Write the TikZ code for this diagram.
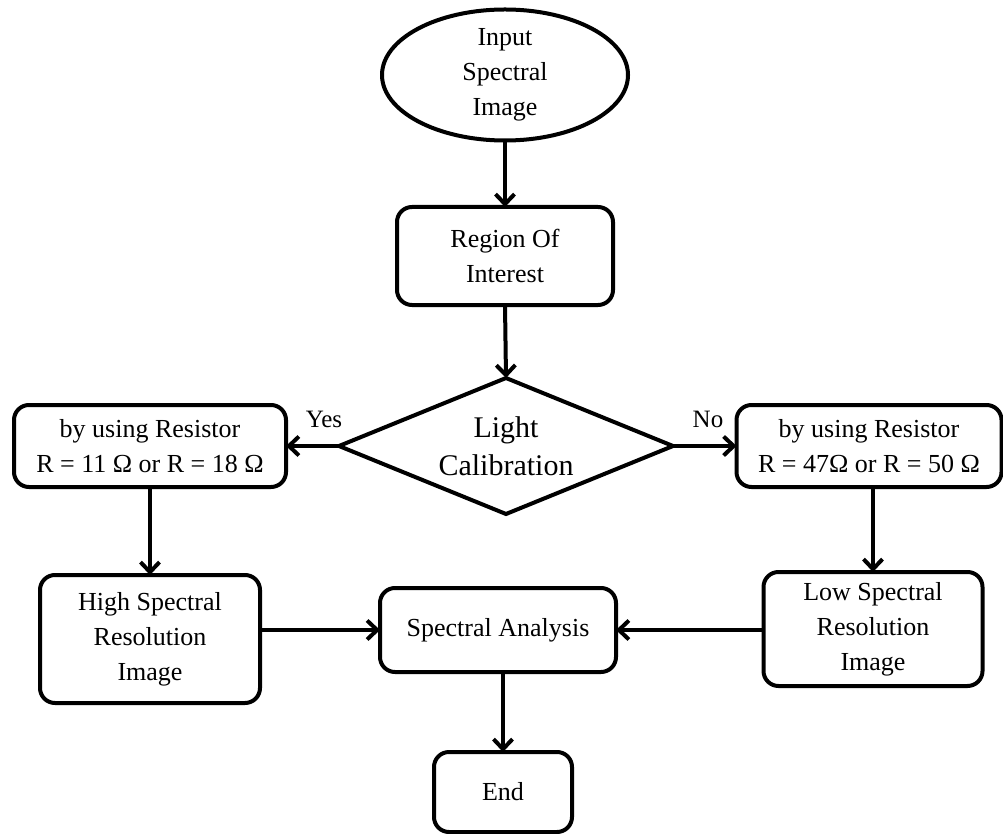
\documentclass[tikz,border=0pt]{standalone}
\usepackage{fontspec}
\setmainfont{Liberation Serif}
\usetikzlibrary{arrows.meta,shapes.geometric}
\begin{document}
\begin{tikzpicture}[x=1pt,y=-1pt,
  every node/.style={font=\fontsize{26}{35}\selectfont, align=center, outer sep=0pt, inner sep=0pt},
  shapeline/.style={draw=black, line width=4pt},
  stepbox/.style={shapeline, rounded corners=15pt},
  flow/.style={line width=4pt, -{Straight Barb[length=10pt,width=19pt,line width=4pt]}},
  tag/.style={font=\fontsize{25}{30}\selectfont}
]
\useasboundingbox (0,0) rectangle (1003,834);

% start
\node[shapeline, ellipse, minimum width=246, minimum height=114] (input) at (505,75)
  {Input\\Spectral\\Image};

% region of interest
\node[stepbox, minimum width=216, minimum height=98] (roi) at (505,256)
  {Region Of\\Interest};

% decision
\node[shapeline, diamond, aspect=2.41, minimum width=334, minimum height=136,
      font=\fontsize{30}{38}\selectfont] (light) at (506,446)
  {Light\\Calibration};

% resistor branches
\node[stepbox, minimum width=272, minimum height=82] (lres) at (150,446)
  {by using Resistor\\R = 11 Ω or R = 18 Ω};
\node[stepbox, minimum width=265, minimum height=82] (rres) at (869,446)
  {by using Resistor\\R = 47Ω or R = 50 Ω};

% resolution outcomes
\node[stepbox, minimum width=220, minimum height=128] (high) at (150,639)
  {High Spectral\\Resolution\\Image};
\node[stepbox, minimum width=219, minimum height=114] (low) at (873,629)
  {Low Spectral\\Resolution\\Image};

% analysis and end
\node[stepbox, minimum width=236, minimum height=84] (sa) at (498,630)
  {Spectral Analysis};
\node[stepbox, minimum width=138, minimum height=80] (end) at (503,792)
  {End};

% connectors
\draw[flow] (input.south) -- (roi.north);
\draw[flow] (roi.south) -- (light.north);
\draw[flow] (light.west) -- (lres.east);
\draw[flow] (light.east) -- (rres.west);
\draw[flow] (lres.south) -- (high.north);
\draw[flow] (rres.south -| low.north) -- (low.north);
\draw[flow] (sa.west -| high.east) -- (sa.west);
\draw[flow] (sa.east -| low.west) -- (sa.east);
\draw[flow] (sa.south -| end.north) -- (end.north);

% branch labels
\node[tag] (yes) at (324,419) {Yes};
\node[tag] (no) at (708,419) {No};
\end{tikzpicture}
\end{document}
